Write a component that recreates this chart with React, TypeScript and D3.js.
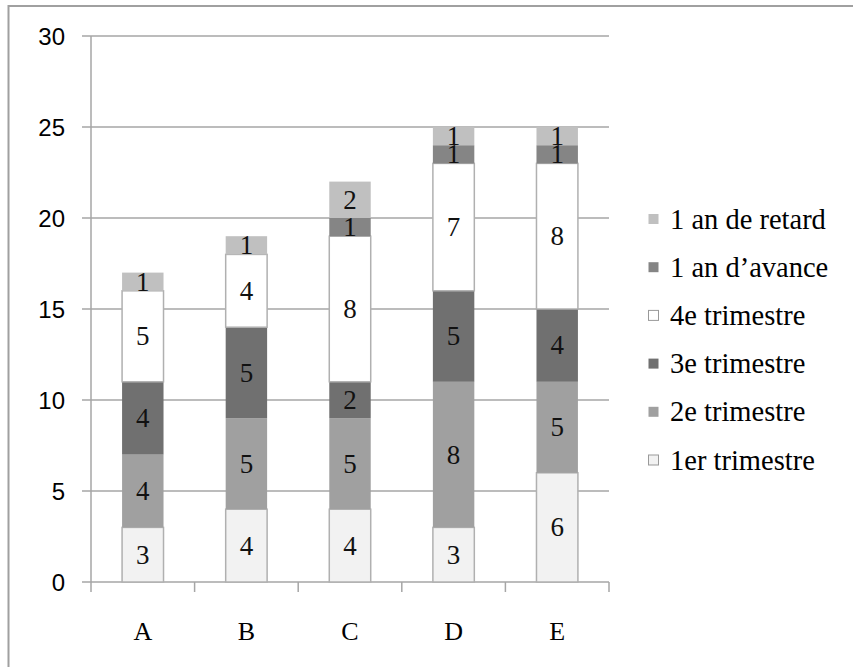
import React from "react";
import * as d3 from "d3";

const categories = ["A", "B", "C", "D", "E"];
const seriesNames = ["1er trimestre", "2e trimestre", "3e trimestre", "4e trimestre", "1 an d\u2019avance", "1 an de retard"];
const premier = [3, 4, 4, 3, 6];
const deuxieme = [4, 5, 5, 8, 5];
const troisieme = [4, 5, 2, 5, 4];
const quatrieme = [5, 4, 8, 7, 8];
const avance = [0, 0, 1, 1, 1];
const retard = [1, 1, 2, 1, 1];
const yTicks = [0, 5, 10, 15, 20, 25, 30];

const seriesValues = [premier, deuxieme, troisieme, quatrieme, avance, retard];
const fills = ["#f2f2f2", "#a0a0a0", "#707070", "#ffffff", "#858585", "#c0c0c0"];
const strokes = ["#b0b0b0", "none", "none", "#b0b0b0", "none", "none"];

export default function App() {
  const W = 853, H = 667;
  const x = d3.scaleBand<string>().domain(categories).range([91, 609]).paddingInner(0).paddingOuter(0);
  const y = d3.scaleLinear().domain([0, 30]).range([582, 36]);
  const table = categories.map((c, i) => {
    const row: any = { cat: c };
    seriesNames.forEach((s, k) => (row[s] = seriesValues[k][i]));
    return row;
  });
  const stacked = d3.stack<any>().keys(seriesNames)(table);
  const bw = x.bandwidth() * 0.4;
  const grid = "#a6a6a6";
  const serifStyle = { fontFamily: "Liberation Serif, DejaVu Serif, serif" };
  const sansStyle = { fontFamily: "Liberation Sans, Arial, sans-serif" };
  const legendOrder = seriesNames.map((_, k) => k).reverse();

  return (
    <svg width={W} height={H} style={{ position: "absolute", left: 0, top: 0, background: "#fff" }}>
      <rect x={8.5} y={6} width={W + 20} height={H + 20} fill="#fff" stroke="#a0a0a0" strokeWidth={2} />
      {yTicks.map((t) => (
        <g key={t}>
          <line x1={82} x2={609} y1={y(t)} y2={y(t)} stroke={grid} strokeWidth={1.5} />
          <text x={65} y={y(t)} textAnchor="end" dominantBaseline="central" style={sansStyle} fontSize={24} fill="#000">
            {t}
          </text>
        </g>
      ))}
      <line x1={91} x2={91} y1={y(30)} y2={y(0)} stroke={grid} strokeWidth={1.5} />
      {[...categories.map((c) => x(c) as number), 609].map((v, i) => (
        <line key={i} x1={v} x2={v} y1={y(0)} y2={y(0) + 10} stroke={grid} strokeWidth={1.5} />
      ))}
      {stacked.map((layer, k) =>
        layer.map((d, i) => {
          const v = d[1] - d[0];
          if (v <= 0) return null;
          const cx = (x(categories[i]) as number) + x.bandwidth() / 2;
          return (
            <rect
              key={k + "-" + i}
              x={cx - bw / 2}
              y={y(d[1])}
              width={bw}
              height={y(d[0]) - y(d[1])}
              fill={fills[k]}
              stroke={strokes[k]}
              strokeWidth={1.5}
            />
          );
        })
      )}
      {stacked.map((layer, k) =>
        layer.map((d, i) => {
          const v = d[1] - d[0];
          if (v <= 0) return null;
          const cx = (x(categories[i]) as number) + x.bandwidth() / 2;
          return (
            <text
              key={"t" + k + "-" + i}
              x={cx}
              y={(y(d[0]) + y(d[1])) / 2}
              textAnchor="middle"
              dominantBaseline="central"
              style={serifStyle}
              fontSize={27}
              fill="#111"
            >
              {v}
            </text>
          );
        })
      )}
      {categories.map((c) => (
        <text
          key={c}
          x={(x(c) as number) + x.bandwidth() / 2}
          y={631}
          textAnchor="middle"
          dominantBaseline="central"
          style={serifStyle}
          fontSize={26}
          fill="#000"
        >
          {c}
        </text>
      ))}
      {legendOrder.map((k, j) => {
        const ly = 219 + j * 48.2;
        return (
          <g key={"l" + k}>
            <rect x={648.5} y={ly - 5} width={10} height={10} fill={fills[k]} stroke={strokes[k] === "none" ? "none" : "#999"} strokeWidth={1} />
            <text x={670} y={ly} dominantBaseline="central" style={serifStyle} fontSize={28.5} fill="#000">
              {seriesNames[k]}
            </text>
          </g>
        );
      })}
    </svg>
  );
}
